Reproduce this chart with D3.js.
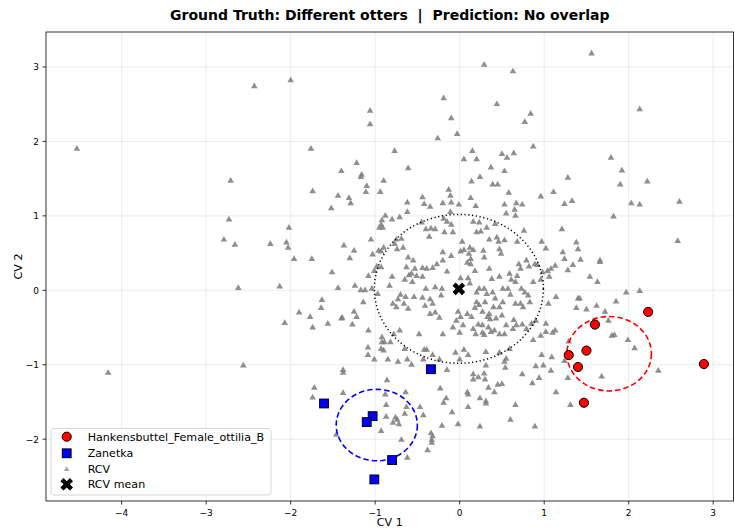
<!DOCTYPE html>
<html><head><meta charset="utf-8">
<script src="https://cdn.jsdelivr.net/npm/d3@7"></script>
<style>body{margin:0;background:#fff}svg{display:block}text{font-family:"DejaVu Sans",sans-serif;white-space:pre}</style>
</head><body>
<svg id="c" width="735" height="529"></svg>
<script>
const rcvPoints = [
[-4.53,1.90],
[-2.43,2.74],[-2.00,2.82],[-1.06,2.41],[-1.06,2.23],[-1.76,1.90],[-1.22,1.71],[-1.40,1.60],[-1.16,1.55],[-1.17,1.52],[-1.10,1.40],[-0.90,1.47],[-2.71,1.47],
[0.29,3.03],[0.63,2.94],[-0.19,2.58],[0.44,2.50],[-0.10,2.31],[0.84,2.37],[0.77,2.26],[-0.26,2.04],[-0.03,2.10],[-0.77,1.87],[0.15,1.87],[0.05,1.76],[0.20,1.76],[0.50,1.83],[0.56,1.78],[0.64,1.84],[0.87,1.93],[-0.61,1.64],[0.37,1.65],[0.53,1.60],[0.24,1.52],[0.14,1.46],[0.39,1.42],[0.45,1.42],
[1.56,3.18],[2.13,2.43],[1.79,1.78],[1.92,1.61],[1.28,1.51],[1.90,1.42],[2.22,1.46],
[-1.74,1.33],[-1.44,1.27],[-1.31,1.24],[-1.29,1.17],[-1.11,1.32],[-0.94,1.32],[-1.52,1.10],[-0.88,1.00],[-0.92,0.94],[-0.93,0.88],[-0.95,0.84],[-0.91,0.84],[-2.73,0.95],[-2.02,0.84],[-2.79,0.68],[-2.66,0.61],[-2.24,0.62],[-2.05,0.64],[-2.03,0.57],[-1.96,0.42],[-1.75,0.42],[-1.37,0.60],[-1.25,0.53],[-1.30,0.43],[-1.05,0.68],[-1.03,0.48],[-0.96,0.53],[-0.90,0.57],[-0.93,0.52],[-0.98,0.32],[-0.93,0.31],[-1.01,0.26],[-1.08,0.19],[-1.51,0.24],[-2.62,0.03],[-2.13,0.05],[-1.44,0.03],[-1.24,0.06],[-1.17,0.00],[-1.12,0.00],[-1.04,0.02],[-0.97,-0.05],[-1.63,-0.13],[-1.64,-0.24],[-1.14,-0.16],[-1.90,-0.30],[-1.77,-0.36],[-1.56,-0.45],[-2.07,-0.44],[-1.74,-0.50],[-1.40,-0.38],[-1.39,-0.37],[-1.25,-0.29],[-1.22,-0.36],[-1.27,-0.46],[-1.08,-0.54],[-0.92,-0.63],[-0.89,-0.70],[-0.92,-0.70],
[-0.13,1.35],[-0.11,1.27],[-0.44,1.25],[-0.62,1.18],[-0.42,1.16],[-0.35,1.12],[-0.20,1.17],[-0.10,1.18],[-0.01,1.15],[0.13,1.24],[0.19,1.13],[0.58,1.31],[0.53,1.15],[0.67,1.17],[0.74,1.15],[0.65,1.08],[0.55,1.03],[0.66,1.00],[0.96,1.26],[1.11,1.32],
[-0.62,1.05],[-0.11,1.05],[-0.80,0.95],[-0.71,0.98],[-0.45,0.91],[-0.19,0.96],[-0.15,0.92],[-0.10,0.88],[0.16,0.92],[0.23,0.91],[-0.40,0.82],[-0.34,0.83],[-0.29,0.82],[-0.18,0.78],[-0.08,0.78],[0.20,0.78],[0.25,0.79],[0.32,0.84],[0.42,0.89],[0.76,0.80],
[-0.36,0.72],[-0.75,0.68],[-0.69,0.69],[-0.77,0.62],[-0.74,0.55],[-0.67,0.57],[0.03,0.65],[0.01,0.52],[0.05,0.54],[0.12,0.57],[0.16,0.54],[0.35,0.68],[0.44,0.71],[0.46,0.65],[0.53,0.67],[0.28,0.53],[0.29,0.44],[0.47,0.55],[0.49,0.49],[0.68,0.65],[0.97,0.65],[1.02,0.56],
[-0.20,0.51],[-0.10,0.46],[-0.61,0.44],[-0.55,0.40],[-0.20,0.40],[-0.27,0.35],[-0.32,0.30],[-0.39,0.29],[-0.44,0.30],[-0.63,0.31],[-0.53,0.29],[-0.57,0.22],[-0.60,0.20],[-0.51,0.19],[-0.44,0.18],[-0.65,0.14],[-0.56,0.11],[-0.80,0.18],[-0.83,0.06],
[0.11,0.49],[0.13,0.42],[0.09,0.37],[0.13,0.35],[0.18,0.26],[0.35,0.29],[0.38,0.15],[0.47,0.18],[0.59,0.22],[0.61,0.14],[0.70,0.35],[0.72,0.29],[0.79,0.40],[0.82,0.32],[0.89,0.35],[0.92,0.34],[0.98,0.24],[1.04,0.26],[1.08,0.29],[1.13,0.33],[1.06,0.18],[0.96,0.14],[0.87,0.11],[0.68,0.19],[0.66,0.11],
[-0.15,0.25],[0.01,0.16],[0.10,0.16],[0.12,0.09],[-0.29,0.04],[-0.21,0.02],[-0.40,0.02],[-0.70,-0.06],[-0.64,-0.09],[-0.73,-0.12],[-0.79,-0.18],[-0.75,-0.23],[-0.66,-0.18],[-0.54,-0.09],[-0.44,-0.10],[-0.35,-0.12],[-0.32,-0.18],[-0.22,-0.07],[-0.41,-0.21],[-0.29,-0.30],[-0.35,-0.32],[-0.24,-0.37],[-0.61,-0.25],
[0.23,0.02],[0.29,0.02],[0.20,-0.03],[0.32,-0.05],[0.39,-0.03],[0.42,-0.11],[0.51,0.02],[0.57,0.02],[0.60,-0.06],[0.73,0.02],[0.77,-0.03],[0.81,-0.07],[0.83,-0.16],[0.75,-0.23],[0.72,-0.18],[0.66,-0.18],[0.51,-0.16],[0.47,-0.23],[0.40,-0.23],[0.30,-0.16],[0.20,-0.16],[0.23,-0.20],[0.18,-0.24],[0.27,-0.29],[0.35,-0.32],[0.33,-0.36],[0.36,-0.39],[0.43,-0.38],[0.50,-0.34],
[-0.02,-0.29],[0.01,-0.36],[0.09,-0.32],[0.14,-0.36],[-0.04,-0.41],[0.04,-0.47],[0.16,-0.52],[0.22,-0.46],[0.27,-0.47],[0.34,-0.50],[0.37,-0.56],[0.41,-0.54],[0.47,-0.59],[0.53,-0.59],[0.63,-0.52],[0.67,-0.47],[0.74,-0.46],[0.79,-0.52],[0.85,-0.45],[0.90,-0.41],[1.02,-0.45],[1.05,-0.18],[1.14,-0.09],[1.02,-0.56],[1.10,-0.57],[1.13,-0.54],[0.96,-0.61],[0.87,-0.67],
[-0.20,-0.59],[-0.48,-0.59],[-0.71,-0.54],[-0.78,-0.59],[-0.82,-0.70],[0.00,-0.57],[-0.08,-0.50],[0.55,-0.47],[0.64,-0.40],[0.19,-0.59],[0.27,-0.57],[0.29,-0.60],
[1.24,1.16],[1.33,1.20],[2.03,1.17],[2.13,1.15],[2.60,1.19],[1.82,0.99],[1.21,0.82],[1.38,0.64],[1.40,0.55],[1.22,0.51],[1.24,0.42],[1.43,0.41],[1.34,0.34],[1.28,0.27],[1.66,0.40],[1.66,0.38],[2.58,0.66],[1.54,0.18],[1.63,0.11],[1.97,-0.03],[2.13,-0.01],[1.40,-0.11],[1.42,-0.11],[1.38,-0.24],[1.50,-0.26],[1.62,-0.21],[1.85,-0.15],[1.72,-0.29],[1.76,-0.41],[1.80,-0.61],[1.83,-0.60],[1.99,-0.67],[1.29,-0.69],
[-4.16,-1.11],
[-2.56,-1.01],[-1.38,-1.07],[-1.38,-1.11],[-1.72,-1.31],[-1.74,-1.44],[-1.38,-1.38],[-1.46,-1.94],[-1.085,-0.77],[-1.085,-0.87],[-1.01,-0.93],[-0.93,-0.79],[-0.90,-0.81],[-0.85,-0.93],[-0.86,-1.21],[-0.88,-1.40],[-0.87,-1.54],[-0.87,-1.70],[-0.93,-1.89],
[-0.65,-0.79],[-0.73,-0.96],[-0.62,-0.93],[-0.57,-1.00],[-0.43,-0.93],[-0.42,-0.80],[-0.39,-0.80],[-0.32,-0.87],[-0.24,-0.93],[-0.15,-1.07],[-0.05,-0.84],[0.00,-0.93],[0.05,-0.80],[0.10,-0.87],[0.31,-0.83],[0.31,-1.01],[0.47,-0.84],[0.55,-0.92],[0.53,-0.96],[0.54,-1.04],[0.59,-0.79],[0.97,-0.87],[1.09,-0.90],[0.90,-1.02],[0.99,-1.01],[1.08,-1.08],[0.74,-1.13],[0.86,-1.25],[0.94,-1.18],[1.14,-1.37],
[0.16,-1.13],[0.16,-1.20],[0.22,-1.17],[0.29,-1.12],[0.30,-1.20],[0.34,-1.31],[0.41,-1.37],[0.45,-1.27],[0.50,-1.26],[0.09,-1.37],[0.10,-1.40],[0.24,-1.45],[0.31,-1.49],[0.31,-1.52],[0.10,-1.57],[0.66,-1.54],[-0.23,-1.32],[-0.16,-1.45],[-0.19,-1.51],[-0.09,-1.64],[-0.47,-1.57],[-0.43,-1.68],[-0.64,-1.37],[-0.63,-1.57],[-0.65,-1.66],[-0.76,-1.71],[-0.74,-1.74],[-0.79,-1.78],[-0.72,-1.80],[-0.21,-1.82],[-0.02,-1.80],[0.24,-1.83],[0.60,-1.74],[0.89,-1.83],[-0.34,-1.92],[-0.32,-1.96],[-0.33,-2.05],[-0.33,-2.01],[-0.38,-2.15],[-0.69,-2.01],[-0.62,-2.25],
[1.24,-0.95],[1.28,-1.18],[1.68,-1.16],[2.07,-0.78],[2.35,-1.08],[1.31,-1.54]
];
const hankPoints = [[2.23,-0.29],[1.60,-0.46],[1.29,-0.87],[1.50,-0.81],[1.40,-1.03],[1.47,-1.51],[2.89,-0.99]];
const zanPoints = [[-1.605,-1.52],[-1.03,-1.69],[-1.10,-1.77],[-1.01,-2.54],[-0.34,-1.06],[-0.80,-2.28]];
const rcvMean = [-0.01, 0.02];
const ringRadii = {rcv: 1.0, zan: 0.48, hank: 0.5};
const xTicks = [-4,-3,-2,-1,0,1,2,3];
const yTicks = [-2,-1,0,1,2,3];
const xDomain = [-4.895, 3.24];
const yDomain = [-2.83, 3.47];
const legendLabels = ["Hankensbuttel_Female_ottilia_B","Zanetka","RCV","RCV mean"];
const titleText = "Ground Truth: Different otters  |  Prediction: No overlap";

const W = 735, H = 529, m = {l:46, r:1.5, t:32, b:28};
const svg = d3.select("#c");
const x = d3.scaleLinear().domain(xDomain).range([m.l, W - m.r]);
const y = d3.scaleLinear().domain(yDomain).range([H - m.b, m.t]);
const fmt = d => (d < 0 ? "\u2212" + Math.abs(d) : String(d));

// grid
const g = svg.append("g");
g.selectAll(".gx").data(xTicks).join("line")
  .attr("x1", d => x(d)).attr("x2", d => x(d)).attr("y1", y.range()[1]).attr("y2", y.range()[0])
  .attr("stroke", "#b0b0b0").attr("stroke-opacity", 0.3).attr("stroke-width", 0.8);
g.selectAll(".gy").data(yTicks).join("line")
  .attr("y1", d => y(d)).attr("y2", d => y(d)).attr("x1", x.range()[0]).attr("x2", x.range()[1])
  .attr("stroke", "#b0b0b0").attr("stroke-opacity", 0.3).attr("stroke-width", 0.8);

// RCV triangles
const tri = d3.symbol().type(d3.symbolTriangle).size(19);
svg.append("g").selectAll("path").data(rcvPoints).join("path")
  .attr("d", tri).attr("transform", d => `translate(${x(d[0])},${y(d[1])})`)
  .attr("fill", "#808080").attr("fill-opacity", 0.88);

// rings
function ring(center, r, color, dash, width) {
  svg.append("ellipse")
    .attr("cx", x(center[0])).attr("cy", y(center[1]))
    .attr("rx", x(center[0] + r) - x(center[0]))
    .attr("ry", y(center[1]) - y(center[1] + r))
    .attr("fill", "none").attr("stroke", color).attr("stroke-width", width)
    .attr("stroke-dasharray", dash);
}
const meanOf = pts => [d3.mean(pts, p => p[0]), d3.mean(pts, p => p[1])];
ring(rcvMean, ringRadii.rcv, "#000", "1.2,2.6", 1.5);
ring(meanOf(zanPoints), ringRadii.zan, "#0000ff", "5.5,3", 1.6);
ring(meanOf(hankPoints), ringRadii.hank, "#ff0000", "5.5,3", 1.6);

// red circles
svg.append("g").selectAll("circle").data(hankPoints).join("circle")
  .attr("cx", d => x(d[0])).attr("cy", d => y(d[1])).attr("r", 4.6)
  .attr("fill", "#ff0000").attr("stroke", "#000").attr("stroke-width", 1);
// blue squares
svg.append("g").selectAll("rect").data(zanPoints).join("rect")
  .attr("x", d => x(d[0]) - 4.4).attr("y", d => y(d[1]) - 4.4).attr("width", 8.8).attr("height", 8.8)
  .attr("fill", "#0000ff").attr("stroke", "#000").attr("stroke-width", 1);
// mean X
const xSym = d3.symbol().type(d3.symbolCross).size(100);
svg.append("path").attr("d", xSym)
  .attr("transform", `translate(${x(rcvMean[0])},${y(rcvMean[1])}) rotate(45)`)
  .attr("fill", "#000");

// frame
svg.append("rect").attr("x", x.range()[0]).attr("y", y.range()[1])
  .attr("width", x.range()[1] - x.range()[0]).attr("height", y.range()[0] - y.range()[1])
  .attr("fill", "none").attr("stroke", "#000").attr("stroke-width", 0.8);

// ticks
const ax = svg.append("g");
ax.selectAll(".tx").data(xTicks).join("line")
  .attr("x1", d => x(d)).attr("x2", d => x(d)).attr("y1", y.range()[0]).attr("y2", y.range()[0] + 3.5)
  .attr("stroke", "#000").attr("stroke-width", 0.8);
ax.selectAll(".lx").data(xTicks).join("text")
  .attr("x", d => x(d)).attr("y", y.range()[0] + 15).attr("text-anchor", "middle")
  .attr("font-size", 9).text(fmt);
ax.selectAll(".ty").data(yTicks).join("line")
  .attr("y1", d => y(d)).attr("y2", d => y(d)).attr("x1", x.range()[0] - 3.5).attr("x2", x.range()[0])
  .attr("stroke", "#000").attr("stroke-width", 0.8);
ax.selectAll(".ly").data(yTicks).join("text")
  .attr("x", x.range()[0] - 7).attr("y", d => y(d) + 3.3).attr("text-anchor", "end")
  .attr("font-size", 9).text(fmt);

// labels
const cx = (x.range()[0] + x.range()[1]) / 2;
svg.append("text").attr("x", cx).attr("y", 526).attr("text-anchor", "middle").attr("font-size", 11.1).text("CV 1");
svg.append("text").attr("transform", `translate(22,${(y.range()[0] + y.range()[1]) / 2}) rotate(-90)`)
  .attr("text-anchor", "middle").attr("font-size", 11.1).text("CV 2");
svg.append("text").attr("x", cx).attr("y", 20).attr("text-anchor", "middle")
  .attr("xml:space", "preserve")
  .attr("font-size", 14).attr("font-weight", "bold").text(titleText);

// legend
const lg = svg.append("g").attr("transform", "translate(51,428.5)");
lg.append("rect").attr("width", 220).attr("height", 66.5).attr("rx", 3)
  .attr("fill", "#fff").attr("fill-opacity", 0.8).attr("stroke", "#cccccc").attr("stroke-width", 0.8);
const rowY = [8.2, 24.8, 40.8, 55.8];
lg.append("circle").attr("cx", 15.7).attr("cy", rowY[0]).attr("r", 4.6)
  .attr("fill", "#ff0000").attr("stroke", "#000");
lg.append("rect").attr("x", 15.7 - 4.4).attr("y", rowY[1] - 4.4).attr("width", 8.8).attr("height", 8.8)
  .attr("fill", "#0000ff").attr("stroke", "#000");
lg.append("path").attr("d", d3.symbol().type(d3.symbolTriangle).size(13))
  .attr("transform", `translate(15.7,${rowY[2]})`).attr("fill", "#808080").attr("fill-opacity", 0.7);
lg.append("path").attr("d", xSym).attr("transform", `translate(15.7,${rowY[3]}) rotate(45)`).attr("fill", "#000");
lg.selectAll("text").data(legendLabels).join("text")
  .attr("x", 36.7).attr("y", (d, i) => rowY[i] + 4).attr("font-size", 11.1).text(d => d);
</script>
</body></html>
